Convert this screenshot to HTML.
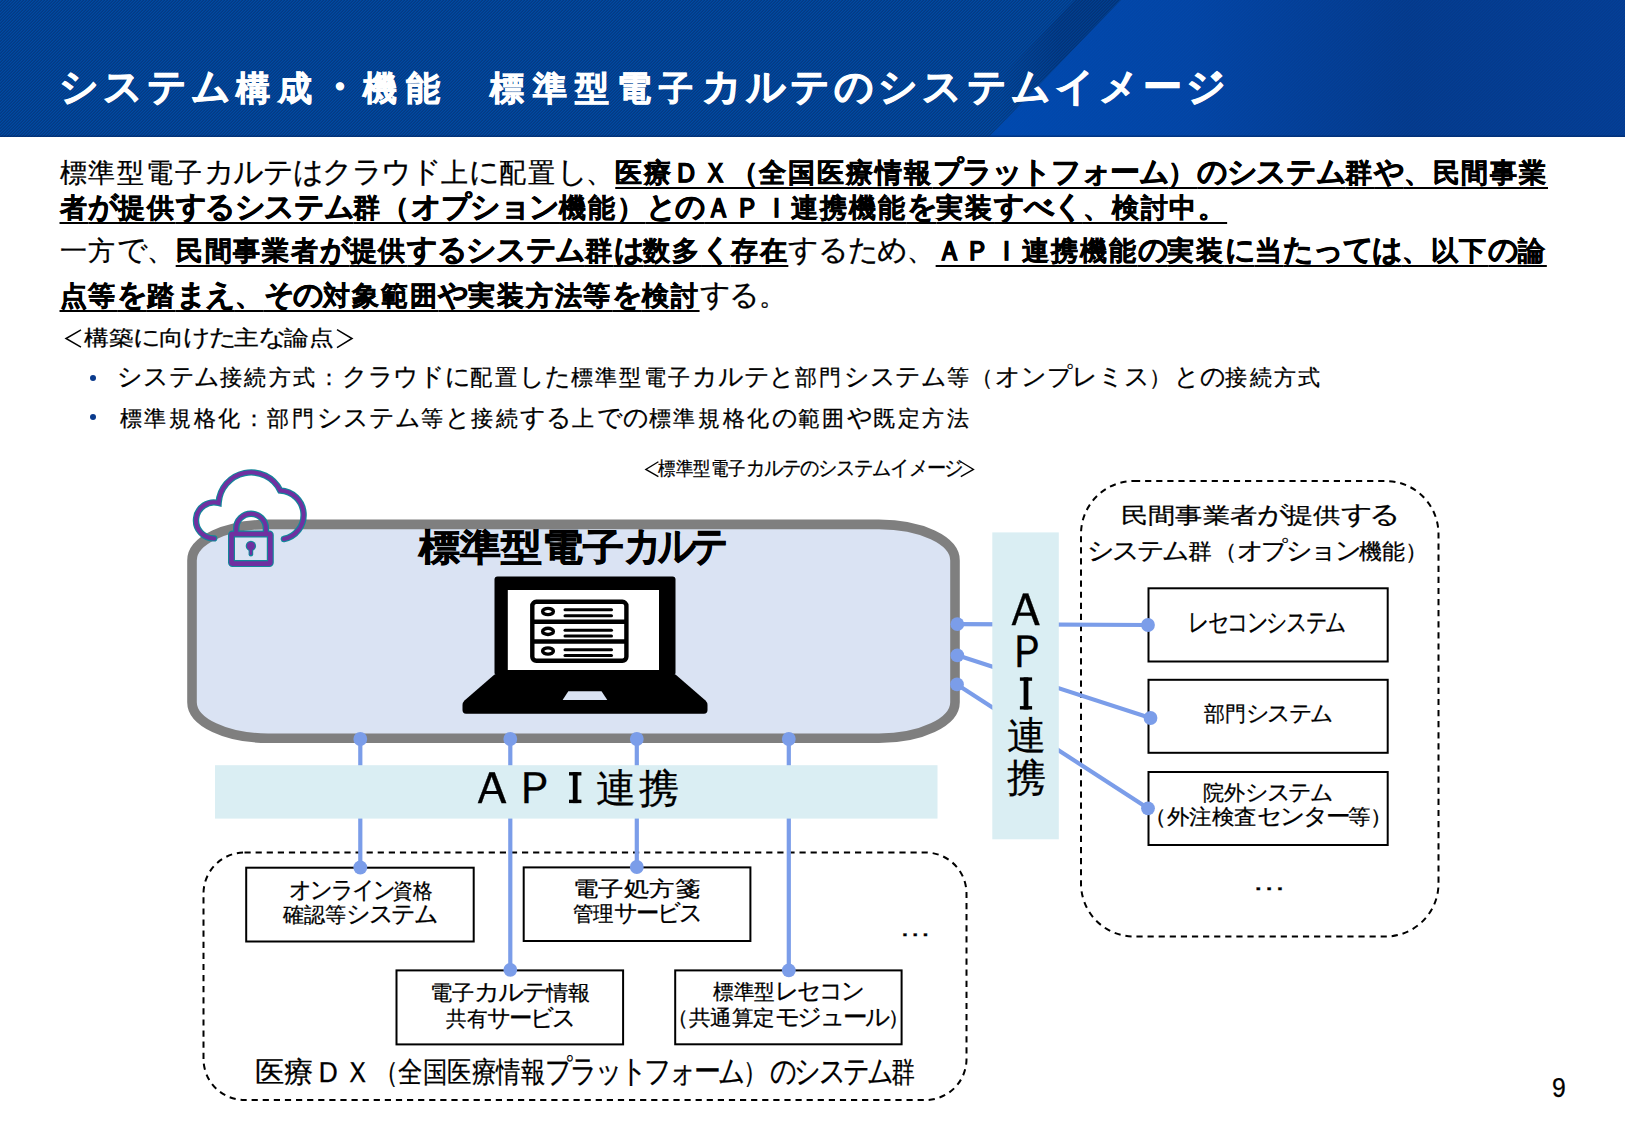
<!DOCTYPE html>
<html lang="ja"><head><meta charset="utf-8"><title>slide</title><style>html,body{margin:0;padding:0}
body{width:1625px;height:1125px;position:relative;overflow:hidden;background:#fff;color:#000;font-family:"Liberation Sans",sans-serif}
.hdr{position:absolute;left:0;top:0;width:1625px;height:137px;overflow:hidden}
.t{position:absolute;white-space:nowrap;line-height:1;transform-origin:0 0;-webkit-text-stroke:0.25px #000}
u{font-weight:bold;-webkit-text-stroke:0.5px #000;text-decoration:underline;text-decoration-thickness:2px;text-underline-offset:5px;text-decoration-skip-ink:none}
.ang{color:transparent;-webkit-text-stroke:0 transparent}
.k{font-size:calc(var(--F) * 1.12);letter-spacing:calc(var(--ls) - var(--F) * 0.12);line-height:0}
.bul{position:absolute;width:6.4px;height:6.4px;border-radius:50%;background:#0a3a8c}
</style></head>
<body>
<div class="hdr">
<svg width="1625" height="137" style="position:absolute;left:0;top:0">
<defs>
<pattern id="st" width="3" height="3" patternUnits="userSpaceOnUse"><rect width="3" height="3" fill="#043a84"/><rect x="0" y="0" width="1" height="1" fill="#0049a2"/><rect x="1" y="0" width="1" height="1" fill="#03418f"/><rect x="0" y="1" width="1" height="1" fill="#03418f"/><rect x="2" y="1" width="1" height="1" fill="#0049a2"/><rect x="1" y="2" width="1" height="1" fill="#0049a2"/><rect x="2" y="2" width="1" height="1" fill="#03418f"/></pattern>
<linearGradient id="gr" gradientUnits="userSpaceOnUse" x1="1000" y1="0" x2="1625" y2="0">
<stop offset="0" stop-color="#004ab2" stop-opacity="0.9"/>
<stop offset="0.3" stop-color="#0346aa" stop-opacity="0.82"/>
<stop offset="0.65" stop-color="#05398c" stop-opacity="0.75"/>
<stop offset="1" stop-color="#053c94" stop-opacity="0.75"/>
</linearGradient>
<linearGradient id="sh" gradientUnits="userSpaceOnUse" x1="1000" y1="0" x2="1060" y2="0">
<stop offset="0" stop-color="#001a50" stop-opacity="0"/>
<stop offset="1" stop-color="#001a50" stop-opacity="0.22"/>
</linearGradient>
</defs>
<rect width="1625" height="137" fill="url(#st)"/>
<polygon points="1075,0 1121,0 989,137 943,137" fill="url(#sh)"/>
<polygon points="1121,0 1625,0 1625,137 989,137" fill="url(#gr)"/>
<rect y="135.5" width="1625" height="1.5" fill="#002a6a" opacity="0.6"/>
</svg>
</div>
<svg class="dg" width="1625" height="1125" viewBox="0 0 1625 1125" style="position:absolute;left:0;top:0">
<rect x="1081" y="481" width="357.5" height="455.5" rx="53" ry="53" fill="none" stroke="#000" stroke-width="2" stroke-dasharray="6.2 4.9"/>
<rect x="203.5" y="852.5" width="763" height="247.5" rx="41" ry="41" fill="none" stroke="#000" stroke-width="2" stroke-dasharray="6.2 4.9"/>
<rect x="192" y="524.4" width="763" height="213.8" rx="76" ry="36" fill="#dae3f3" stroke="#7f7f7f" stroke-width="9.6"/>
<rect x="1148.5" y="588.3" width="239.20000000000005" height="73.20000000000005" fill="#fff" stroke="#000" stroke-width="2"/>
<rect x="1148.5" y="679.8" width="239.20000000000005" height="73.0" fill="#fff" stroke="#000" stroke-width="2"/>
<rect x="1148.5" y="772" width="239.20000000000005" height="73" fill="#fff" stroke="#000" stroke-width="2"/>
<rect x="246.2" y="867.7" width="227.5" height="73.79999999999995" fill="#fff" stroke="#000" stroke-width="2"/>
<rect x="523.7" y="867.4" width="226.69999999999993" height="73.60000000000002" fill="#fff" stroke="#000" stroke-width="2"/>
<rect x="396.5" y="970.4" width="226.60000000000002" height="74.00000000000011" fill="#fff" stroke="#000" stroke-width="2"/>
<rect x="675.2" y="970.4" width="226.39999999999998" height="73.89999999999998" fill="#fff" stroke="#000" stroke-width="2"/>
<line x1="360.3" y1="739" x2="360.3" y2="867.5" stroke="#7b9de9" stroke-width="4.2"/>
<line x1="510.3" y1="739" x2="510.3" y2="969.8" stroke="#7b9de9" stroke-width="4.2"/>
<line x1="636.8" y1="739" x2="636.8" y2="867" stroke="#7b9de9" stroke-width="4.2"/>
<line x1="788.8" y1="739" x2="788.8" y2="970.3" stroke="#7b9de9" stroke-width="4.2"/>
<line x1="957.3" y1="624.2" x2="1148" y2="625" stroke="#7b9de9" stroke-width="4.2"/>
<line x1="957.3" y1="655.3" x2="1150.5" y2="718" stroke="#7b9de9" stroke-width="4.2"/>
<line x1="957" y1="684.4" x2="1148" y2="808.3" stroke="#7b9de9" stroke-width="4.2"/>
<circle cx="360.3" cy="739" r="6.9" fill="#7b9de9"/>
<circle cx="360.3" cy="867.5" r="6.9" fill="#7b9de9"/>
<circle cx="510.3" cy="739" r="6.9" fill="#7b9de9"/>
<circle cx="510.3" cy="969.8" r="6.9" fill="#7b9de9"/>
<circle cx="636.8" cy="739" r="6.9" fill="#7b9de9"/>
<circle cx="636.8" cy="867" r="6.9" fill="#7b9de9"/>
<circle cx="788.8" cy="739" r="6.9" fill="#7b9de9"/>
<circle cx="788.8" cy="970.3" r="6.9" fill="#7b9de9"/>
<circle cx="957.3" cy="624.2" r="6.9" fill="#7b9de9"/>
<circle cx="1148" cy="625" r="6.9" fill="#7b9de9"/>
<circle cx="957.3" cy="655.3" r="6.9" fill="#7b9de9"/>
<circle cx="1150.5" cy="718" r="6.9" fill="#7b9de9"/>
<circle cx="957" cy="684.4" r="6.9" fill="#7b9de9"/>
<circle cx="1148" cy="808.3" r="6.9" fill="#7b9de9"/>
<rect x="215" y="765.2" width="722.5" height="53.4" fill="#daeef3"/>
<rect x="992.3" y="532.4" width="66.5" height="306.9" fill="#daeef3"/>
<rect x="569" y="772.1" width="12.399999999999977" height="3.4" fill="#000"/><rect x="569" y="799.7" width="12.399999999999977" height="3.4" fill="#000"/><rect x="572.8000000000001" y="772.1" width="4.8" height="31.0" fill="#000"/>
<rect x="1019.9" y="677.4" width="12.199999999999932" height="3.4" fill="#000"/><rect x="1019.9" y="706.1" width="12.199999999999932" height="3.4" fill="#000"/><rect x="1023.6" y="677.4" width="4.8" height="32.10000000000002" fill="#000"/>
<rect x="494.5" y="576.6" width="181" height="99" rx="3" fill="#000"/>
<rect x="507.8" y="590" width="151.2" height="80" fill="#fff"/>
<path d="M494.5 674.5 L675.5 674.5 L705.5 700.5 Q707.5 702.5 707.5 705 L707.5 710 Q707.5 713.7 704 713.7 L466 713.7 Q462.5 713.7 462.5 710 L462.5 705 Q462.5 702.5 464.5 700.5 Z" fill="#000"/>
<path d="M568.3 691.2 L601.5 691.2 L607.3 700 L562.6 700 Z" fill="#dae3f3"/>
<rect x="532.3" y="601.8" width="94.1" height="59" rx="4" fill="#fff" stroke="#000" stroke-width="4.4"/>
<line x1="531" y1="621.8" x2="627.7" y2="621.8" stroke="#000" stroke-width="4.4"/>
<line x1="531" y1="641.5" x2="627.7" y2="641.5" stroke="#000" stroke-width="4.4"/>
<ellipse cx="548" cy="611.5" rx="5.4" ry="3.1" fill="#fff" stroke="#000" stroke-width="3.4"/>
<line x1="565" y1="609.75" x2="611.5" y2="609.75" stroke="#000" stroke-width="3" stroke-linecap="round"/>
<line x1="565" y1="615.65" x2="611.5" y2="615.65" stroke="#000" stroke-width="3" stroke-linecap="round"/>
<ellipse cx="548" cy="631.4" rx="5.4" ry="3.1" fill="#fff" stroke="#000" stroke-width="3.4"/>
<line x1="565" y1="630.15" x2="611.5" y2="630.15" stroke="#000" stroke-width="3" stroke-linecap="round"/>
<line x1="565" y1="636.05" x2="611.5" y2="636.05" stroke="#000" stroke-width="3" stroke-linecap="round"/>
<ellipse cx="548" cy="651" rx="5.4" ry="3.1" fill="#fff" stroke="#000" stroke-width="3.4"/>
<line x1="565" y1="649.65" x2="611.5" y2="649.65" stroke="#000" stroke-width="3" stroke-linecap="round"/>
<line x1="565" y1="655.55" x2="611.5" y2="655.55" stroke="#000" stroke-width="3" stroke-linecap="round"/>
<path d="M214.2 538.4 A18 18 0 1 1 218.6 503 A32.5 32.5 0 0 1 280.2 490.5 A24.5 24.5 0 0 1 283.9 539" fill="none" stroke="#13869a" stroke-width="6.4" stroke-linecap="round"/>
<path d="M214.2 538.4 A18 18 0 1 1 218.6 503 A32.5 32.5 0 0 1 280.2 490.5 A24.5 24.5 0 0 1 283.9 539" fill="none" stroke="#7030a0" stroke-width="4" stroke-linecap="round"/>
<path d="M236.2 534 L236.2 528.6 A14.85 14.85 0 0 1 265.9 528.6 L265.9 534" fill="none" stroke="#13869a" stroke-width="6.4"/>
<rect x="231.5" y="534" width="38.8" height="29.6" rx="1" fill="none" stroke="#13869a" stroke-width="7.0"/>
<path d="M236.2 534 L236.2 528.6 A14.85 14.85 0 0 1 265.9 528.6 L265.9 534" fill="none" stroke="#7030a0" stroke-width="4"/>
<rect x="231.5" y="534" width="38.8" height="29.6" rx="1" fill="none" stroke="#7030a0" stroke-width="4.6"/>
<circle cx="250.9" cy="545.9" r="5.2" fill="#13869a"/><rect x="248.6" y="546" width="4.6" height="10.5" rx="2.3" fill="#13869a"/>
<circle cx="250.9" cy="545.9" r="4" fill="#7030a0"/><rect x="249.6" y="547" width="2.6" height="8" rx="1.3" fill="#7030a0"/>
<polyline points="81,329.8 66,338.5 81,347.2" fill="none" stroke="#000" stroke-width="1.5"/>
<polyline points="337,329.6 352,338.5 337,347.6" fill="none" stroke="#000" stroke-width="1.5"/>
<polyline points="658.4,461.7 645.8,469.4 658.4,476.6" fill="none" stroke="#000" stroke-width="1.3"/>
<polyline points="960.8,461.7 973.5,469.4 960.8,476.6" fill="none" stroke="#000" stroke-width="1.3"/>
</svg>
<div class="bul" style="left:90px;top:375px"></div><div class="bul" style="left:90px;top:413.9px"></div>
<div class="t" id="title" style="left:58.90px;top:70.74px;font-size:34.49px;--F:34.49px;--ls:8.297px;letter-spacing:8.297px;font-weight:bold;-webkit-text-stroke:0.8px #fff;color:#fff;"><span class="k">システム</span>構成<span class="k">・</span>機能　標準型電子<span class="k">カルテのシステムイメージ</span></div>
<div class="t" id="L1" style="left:59.53px;top:159.73px;font-size:27.05px;--F:27.05px;--ls:1.849px;letter-spacing:1.849px;">標準型電子<span class="k">カルテはクラウド</span>上<span class="k">に</span>配置<span class="k">し</span>、<u>医療ＤＸ（全国医療情報<span class="k">プラットフォーム</span>）<span class="k">のシステム</span>群<span class="k">や</span>、民間事業</u></div>
<div class="t" id="L2" style="left:59.53px;top:194.93px;font-size:27.05px;--F:27.05px;--ls:1.849px;letter-spacing:1.849px;"><u>者<span class="k">が</span>提供<span class="k">するシステム</span>群（<span class="k">オプション</span>機能）<span class="k">との</span>ＡＰＩ連携機能<span class="k">を</span>実装<span class="k">すべく</span>、検討中。</u></div>
<div class="t" id="L3" style="left:59.53px;top:237.74px;font-size:27.05px;--F:27.05px;--ls:1.849px;letter-spacing:1.849px;">一方<span class="k">で</span>、<u>民間事業者<span class="k">が</span>提供<span class="k">するシステム</span>群<span class="k">は</span>数多<span class="k">く</span>存在</u><span class="k">するため</span>、<u>ＡＰＩ連携機能<span class="k">の</span>実装<span class="k">に</span>当<span class="k">たっては</span>、以下<span class="k">の</span>論</u></div>
<div class="t" id="L4" style="left:59.53px;top:282.70px;font-size:27.05px;--F:27.05px;--ls:1.849px;letter-spacing:1.849px;"><u>点等<span class="k">を</span>踏<span class="k">まえ</span>、<span class="k">その</span>対象範囲<span class="k">や</span>実装方法等<span class="k">を</span>検討</u><span class="k">する</span>。</div>
<div class="t" id="sub" style="left:58.51px;top:327.71px;font-size:20.67px;--F:20.67px;--ls:0.000px;transform:scaleX(1.1788);"><span class="ang">＜</span>構築<span class="k">に</span>向<span class="k">けた</span>主<span class="k">な</span>論点<span class="ang">＞</span></div>
<div class="t" id="b1" style="left:117.33px;top:367.20px;font-size:22.27px;--F:22.27px;--ls:2.363px;letter-spacing:2.363px;"><span class="k">システム</span>接続方式：<span class="k">クラウドに</span>配置<span class="k">した</span>標準型電子<span class="k">カルテと</span>部門<span class="k">システム</span>等（<span class="k">オンプレミス</span>）<span class="k">との</span>接続方式</div>
<div class="t" id="b2" style="left:119.78px;top:408.25px;font-size:22.27px;--F:22.27px;--ls:2.619px;letter-spacing:2.619px;">標準規格化：部門<span class="k">システム</span>等<span class="k">と</span>接続<span class="k">する</span>上<span class="k">での</span>標準規格化<span class="k">の</span>範囲<span class="k">や</span>既定方法</div>
<div class="t" id="cap" style="left:640.70px;top:459.81px;font-size:18.76px;--F:18.76px;--ls:0.000px;transform:scaleX(0.9173);"><span class="ang">＜</span>標準型電子<span class="k">カルテのシステムイメージ</span><span class="ang">＞</span></div>
<div class="t" id="mt" style="left:419.13px;top:529.37px;font-size:37.35px;--F:37.35px;--ls:0.000px;transform:scaleX(1.1060);font-weight:bold;-webkit-text-stroke:0.8px #000;">標準型電子</div>
<div class="t" id="mt2" style="left:623.91px;top:529.37px;font-size:37.35px;--F:37.35px;--ls:0.000px;transform:scaleX(0.8756);font-weight:bold;-webkit-text-stroke:0.8px #000;"><span class="k">カルテ</span></div>
<div class="t" id="ha" style="left:465.73px;top:765.81px;font-size:44.93px;--F:44.93px;--ls:0.000px;transform:scaleX(1.1582);">Ａ</div>
<div class="t" id="hp" style="left:511.74px;top:765.81px;font-size:44.93px;--F:44.93px;--ls:0.000px;transform:scaleX(1.0355);">Ｐ</div>
<div class="t" id="hren" style="left:596.01px;top:768.60px;font-size:39.56px;--F:39.56px;--ls:3.048px;letter-spacing:3.048px;">連携</div>
<div class="t" id="v1" style="left:1000.30px;top:587.27px;font-size:45.94px;--F:45.94px;--ls:0.000px;transform:scaleX(1.1165);">Ａ</div>
<div class="t" id="v2" style="left:1005.82px;top:629.43px;font-size:45.51px;--F:45.51px;--ls:0.000px;transform:scaleX(0.9394);">Ｐ</div>
<div class="t" id="v4" style="left:1007.12px;top:715.61px;font-size:39.34px;--F:39.34px;--ls:0.000px;">連</div>
<div class="t" id="v5" style="left:1006.92px;top:758.39px;font-size:39.34px;--F:39.34px;--ls:0.000px;">携</div>
<div class="t" id="rt1" style="left:1120.66px;top:505.27px;font-size:22.34px;--F:22.34px;--ls:0.000px;transform:scaleX(1.2380);">民間事業者<span class="k">が</span>提供<span class="k">する</span></div>
<div class="t" id="rt2" style="left:1086.71px;top:540.63px;font-size:22.34px;--F:22.34px;--ls:0.000px;transform:scaleX(1.0779);"><span class="k">システム</span>群</div>
<div class="t" id="rt2b" style="left:1213.52px;top:540.63px;font-size:22.34px;--F:22.34px;--ls:0.000px;transform:scaleX(1.0454);">（<span class="k">オプション</span>機能）</div>
<div class="t" id="reseco" style="left:1188.06px;top:611.56px;font-size:22.78px;--F:22.78px;--ls:0.000px;transform:scaleX(0.8073);"><span class="k">レセコンシステム</span></div>
<div class="t" id="bumon" style="left:1204.09px;top:703.81px;font-size:20.82px;--F:20.82px;--ls:0.000px;transform:scaleX(0.9977);">部門<span class="k">システム</span></div>
<div class="t" id="ingai1" style="left:1202.96px;top:782.80px;font-size:20.82px;--F:20.82px;--ls:0.000px;transform:scaleX(1.0035);">院外<span class="k">システム</span></div>
<div class="t" id="ingai2" style="left:1144.49px;top:806.69px;font-size:20.82px;--F:20.82px;--ls:0.000px;transform:scaleX(1.0717);">（外注検査<span class="k">センター</span>等）</div>
<div class="t" id="onl1" style="left:288.61px;top:879.58px;font-size:21.22px;--F:21.22px;--ls:0.000px;transform:scaleX(0.9306);"><span class="k">オンライン</span>資格</div>
<div class="t" id="onl2" style="left:283.40px;top:903.76px;font-size:21.22px;--F:21.22px;--ls:0.000px;transform:scaleX(1.0045);">確認等<span class="k">システム</span></div>
<div class="t" id="rx1" style="left:573.44px;top:878.15px;font-size:21.22px;--F:21.22px;--ls:0.000px;transform:scaleX(1.2119);">電子処方箋</div>
<div class="t" id="rx2" style="left:573.38px;top:903.16px;font-size:21.22px;--F:21.22px;--ls:0.000px;transform:scaleX(0.9737);">管理<span class="k">サービス</span></div>
<div class="t" id="ek1" style="left:429.95px;top:982.15px;font-size:21.22px;--F:21.22px;--ls:0.000px;transform:scaleX(1.0591);">電子<span class="k">カルテ</span>情報</div>
<div class="t" id="ek2" style="left:445.98px;top:1008.16px;font-size:21.22px;--F:21.22px;--ls:0.000px;transform:scaleX(0.9769);">共有<span class="k">サービス</span></div>
<div class="t" id="rc1" style="left:713.39px;top:981.39px;font-size:21.22px;--F:21.22px;--ls:0.000px;transform:scaleX(0.9795);">標準型<span class="k">レセコン</span></div>
<div class="t" id="rc2" style="left:667.27px;top:1006.58px;font-size:21.22px;--F:21.22px;--ls:0.000px;transform:scaleX(1.0239);">（共通算定<span class="k">モジュール</span>）</div>
<div class="t" id="bcap" style="left:255.05px;top:1057.75px;font-size:28.92px;--F:28.92px;--ls:0.000px;transform:scaleX(1.0113);">医療ＤＸ</div>
<div class="t" id="bcap2" style="left:373.77px;top:1057.75px;font-size:28.92px;--F:28.92px;--ls:0.000px;transform:scaleX(0.8420);">（全国医療情報<span class="k">プラットフォーム</span>）</div>
<div class="t" id="bcap3" style="left:770.45px;top:1057.75px;font-size:28.92px;--F:28.92px;--ls:0.000px;transform:scaleX(0.8228);"><span class="k">のシステム</span>群</div>
<div class="t" id="dots1" style="left:1252.01px;top:870.22px;font-size:24.00px;--F:24.00px;--ls:0.000px;transform:scaleX(1.4247);">…</div>
<div class="t" id="dots2" style="left:899.21px;top:916.22px;font-size:24.00px;--F:24.00px;--ls:0.000px;transform:scaleX(1.3490);">…</div>
<div class="t" id="pg" style="left:1552.07px;top:1073.58px;font-size:27.16px;--F:27.16px;--ls:0.000px;transform:scaleX(0.9102);">9</div>
</body></html>
